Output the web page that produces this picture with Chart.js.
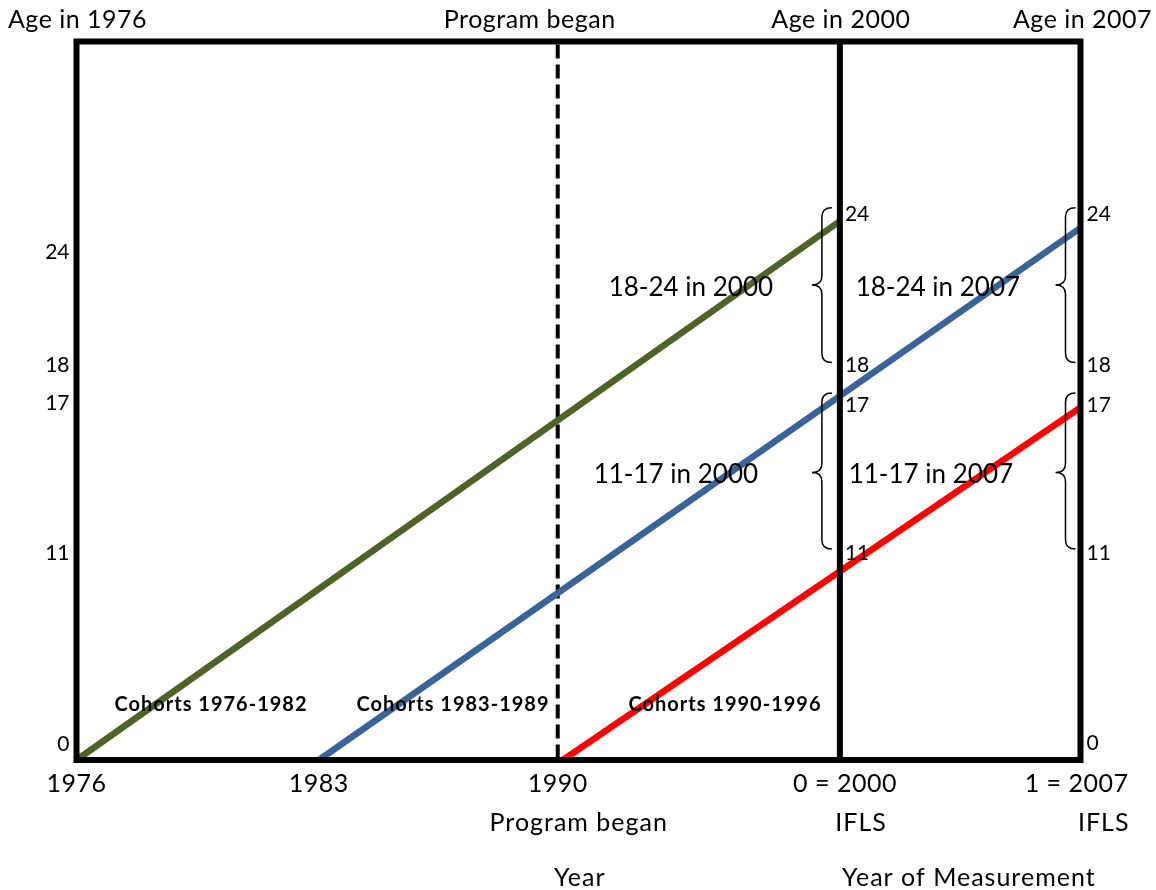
<!DOCTYPE html>
<html>
<head>
<meta charset="utf-8">
<script src="https://cdn.jsdelivr.net/npm/chart.js@4/dist/chart.umd.min.js"></script>
<style>
  html, body { margin: 0; padding: 0; background: #fff; }
  #wrap { width: 1156px; height: 890px; position: relative; }
</style>
</head>
<body>
<div id="wrap"><canvas id="cohortCanvas"></canvas></div>
<script>
// timeline (x) : years shown under the frame and where they sit on the stretched axis
const xYears = ['1976', '1983', '1990', '0 = 2000', '1 = 2007'];
const xTickPos = [0, 7, 13.9, 22.05, 29];

// the three cohort lines (x = timeline position, y = age scale of the drawing)
const cohortNames = ['Cohorts 1976-1982', 'Cohorts 1983-1989', 'Cohorts 1990-1996'];
const greenX = [0, 22.05];
const greenY = [0, 24];
const blueX = [7, 29];
const blueY = [0, 23.7];
const redX = [14.05, 29];
const redY = [0, 15.7];

// age tick labels
const leftAges = ['0', '11', '17', '18', '24'];
const midAges = ['11', '17', '18', '24'];
const rightAges = ['0', '11', '17', '18', '24'];

// headings / captions
const topTitles = ['Age in 1976', 'Program began', 'Age in 2000', 'Age in 2007'];
const groupLabels = ['18-24 in 2000', '18-24 in 2007', '11-17 in 2000', '11-17 in 2007'];

function pts(xs, ys) {
    let out = [];
    for (let i = 0; i < xs.length; i++) out.push({x: xs[i], y: ys[i]});
    return out;
}

// where the age labels sit on the y scale (the drawing is not to scale)
const leftAgeY = [0.7, 9.2, 15.9, 17.6, 22.6];
const midAgeY = [9.2, 15.8, 17.6, 24.3];
const rightAgeY = [0.75, 9.2, 15.8, 17.6, 24.3];

function brace(ctx, xTip, xMid, xPoint, yTop, yMid, yBot) {
    const r = 9;
    ctx.beginPath();
    ctx.moveTo(xTip, yTop);
    ctx.quadraticCurveTo(xMid, yTop, xMid, yTop + r);
    ctx.lineTo(xMid, yMid - r);
    ctx.quadraticCurveTo(xMid, yMid, xPoint, yMid);
    ctx.quadraticCurveTo(xMid, yMid, xMid, yMid + r);
    ctx.lineTo(xMid, yBot - r);
    ctx.quadraticCurveTo(xMid, yBot, xTip, yBot);
    ctx.stroke();
}

const diagram = {
    id: 'diagram',
    beforeDatasetsDraw(chart) {
        const {ctx, chartArea: a, scales: {x}} = chart;
        ctx.save();
        ctx.strokeStyle = '#000';
        // dashed "program began" line
        const xd = x.getPixelForValue(xTickPos[2]);
        ctx.lineWidth = 4;
        ctx.setLineDash([14, 6]);
        ctx.beginPath();
        ctx.moveTo(xd, a.top + 3);
        ctx.lineTo(xd, a.bottom);
        ctx.stroke();
        ctx.setLineDash([]);
        ctx.restore();
    },
    afterDatasetsDraw(chart) {
        const {ctx, chartArea: a, scales: {x, y}} = chart;
        ctx.save();
        ctx.strokeStyle = '#000';
        ctx.lineWidth = 6;
        ctx.strokeRect(a.left, a.top, a.right - a.left, a.bottom - a.top);
        // 2000 survey line
        const x2000 = x.getPixelForValue(xTickPos[3]);
        ctx.beginPath();
        ctx.moveTo(x2000, a.top);
        ctx.lineTo(x2000, a.bottom);
        ctx.stroke();

        const x2007 = x.getPixelForValue(xTickPos[4]);

        ctx.fillStyle = '#000';
        ctx.textBaseline = 'middle';
        ctx.font = '25px Lato';
        ctx.textAlign = 'center';

        // top headings
        const topX = [x.getPixelForValue(xTickPos[0]) + 1, x.getPixelForValue(xTickPos[2]) - 28, x2000 + 1, x2007 + 2];
        ctx.letterSpacing = '0.5px';
        topTitles.forEach((t, i) => ctx.fillText(t, topX[i], 20));

        // bottom year labels
        for (let i = 0; i < 3; i++) {
            ctx.fillText(xYears[i], x.getPixelForValue(xTickPos[i]), 784);
        }
        ctx.textAlign = 'right';
        ctx.fillText(xYears[3], x2000 + 57, 784);
        ctx.fillText(xYears[4], x2007 + 48, 784);
        ctx.letterSpacing = '1px';
        ctx.fillText('IFLS', x2000 + 47, 823);
        ctx.fillText('IFLS', x2007 + 49, 823);
        ctx.textAlign = 'center';
        ctx.fillText('Program began', x.getPixelForValue(xTickPos[2]) + 21, 823);
        ctx.fillText('Year', x.getPixelForValue(xTickPos[2]) + 22, 878);
        ctx.fillText('Year of Measurement', x2000 + 129, 878);
        ctx.letterSpacing = '0px';

        // age ticks
        ctx.font = '21px Lato';
        ctx.textAlign = 'right';
        leftAges.forEach((t, i) => ctx.fillText(t, a.left - 7, y.getPixelForValue(leftAgeY[i])));
        ctx.textAlign = 'left';
        midAges.forEach((t, i) => ctx.fillText(t, x2000 + 5, y.getPixelForValue(midAgeY[i])));
        rightAges.forEach((t, i) => ctx.fillText(t, x2007 + 6, y.getPixelForValue(rightAgeY[i])));

        // braces
        ctx.lineWidth = 1.5;
        const yTopA = y.getPixelForValue(24.6), yMidA = y.getPixelForValue(21.15), yBotA = y.getPixelForValue(17.7);
        const yTopB = y.getPixelForValue(16.35), yMidB = y.getPixelForValue(12.8), yBotB = y.getPixelForValue(9.4);
        brace(ctx, x2000 - 8, x2000 - 18, x2000 - 28, yTopA, yMidA, yBotA);
        brace(ctx, x2000 - 8, x2000 - 18, x2000 - 28, yTopB, yMidB, yBotB);
        brace(ctx, x2007 - 5, x2007 - 15, x2007 - 25, yTopA, yMidA, yBotA);
        brace(ctx, x2007 - 5, x2007 - 15, x2007 - 25, yTopB, yMidB, yBotB);

        // group labels
        ctx.font = '26px Lato';
        ctx.textAlign = 'center';
        ctx.fillText(groupLabels[0], x2000 - 149, y.getPixelForValue(21.05));
        ctx.fillText(groupLabels[1], x2000 + 98, y.getPixelForValue(21.05));
        ctx.fillText(groupLabels[2], x2000 - 164, y.getPixelForValue(12.7));
        ctx.fillText(groupLabels[3], x2000 + 91, y.getPixelForValue(12.7));

        // cohort labels
        ctx.font = 'bold 20px Lato';
        ctx.letterSpacing = '1px';
        const cohortX = [211, 453, 725];
        cohortNames.forEach((t, i) => ctx.fillText(t, cohortX[i], y.getPixelForValue(2.45)));
        ctx.restore();
    }
};

const canvas = document.getElementById('cohortCanvas');
const cohortChart = new Chart(canvas, {
    type: 'line',
    data: {
        datasets: [{
            label: cohortNames[0],
            data: pts(greenX, greenY),
            borderColor: '#4F6228'
        }, {
            label: cohortNames[1],
            data: pts(blueX, blueY),
            borderColor: '#3A6497'
        }, {
            label: cohortNames[2],
            data: pts(redX, redY),
            borderColor: '#FF0000'
        }]
    },
    options: {
        responsive: true,
        maintainAspectRatio: false,
        animation: false,
        datasets: {
            line: { borderWidth: 6.5, pointRadius: 0, borderCapStyle: 'butt', tension: 0, clip: 6 }
        },
        layout: {
            padding: { left: 76.5, right: 75.5, top: 41.5, bottom: 130 }
        },
        plugins: {
            legend: { display: false },
            tooltip: { enabled: false }
        },
        scales: {
            x: { type: 'linear', min: 0, max: 29, display: false },
            y: { type: 'linear', min: 0, max: 32, display: false }
        }
    },
    plugins: [diagram]
});
</script>
</body>
</html>
